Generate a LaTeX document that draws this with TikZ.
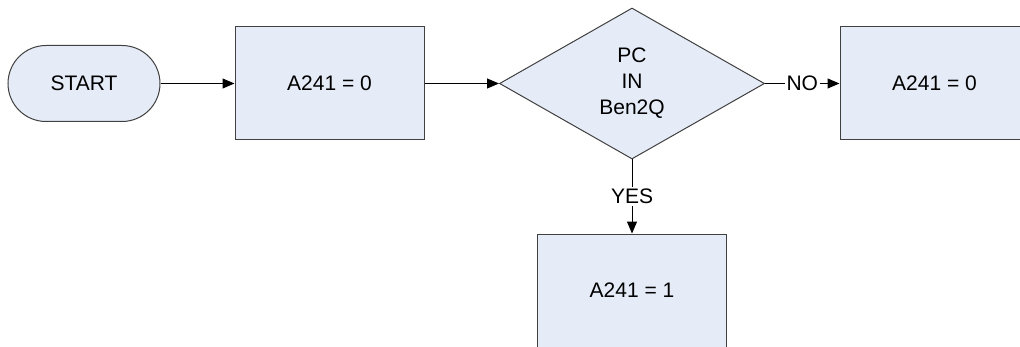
\documentclass[tikz,border=0pt]{standalone}
\usepackage{fontspec}
\setmainfont{Liberation Sans}
\usetikzlibrary{shapes.geometric,shapes.misc,arrows.meta}
\definecolor{boxfill}{HTML}{E6ECF7}
\definecolor{boxline}{HTML}{404040}
\begin{document}
\begin{tikzpicture}[x=0.5pt,y=-0.5pt,
  every node/.style={font=\fontsize{10.5}{13}\selectfont},
  procbox/.style={draw=boxline,fill=boxfill,line width=0.5pt,minimum width=94.5pt,minimum height=56.5pt,inner sep=0pt},
  termbox/.style={draw=boxline,fill=boxfill,line width=0.5pt,rounded rectangle,minimum width=76pt,minimum height=38pt,inner sep=0pt},
  decbox/.style={draw=boxline,fill=boxfill,line width=0.5pt,diamond,minimum width=132.5pt,minimum height=75.5pt,inner sep=0pt,align=center},
  conn/.style={line width=0.5pt,-{Triangle[length=6pt,width=5pt]}},
  lbl/.style={fill=white,inner sep=1pt}]
\useasboundingbox (0,0) rectangle (1020,347);
\clip (0,0) rectangle (1020,347);
\node[termbox] (start) at (84,83.5) {START};
\node[procbox] (a0) at (329.5,83.5) {A241 = 0};
\node[decbox] (dec) at (632,83.5) {PC\\IN\\Ben2Q};
\node[procbox] (no) at (934.5,83.5) {A241 = 0};
\node[procbox] (yes) at (632,290.5) {A241 = 1};
\draw[conn] (start.east) -- (a0.west);
\draw[conn] (a0.east) -- (dec.west);
\draw[conn] (dec.east) -- node[lbl,pos=0.5]{NO} (no.west);
\draw[conn] (dec.south) -- node[lbl,pos=0.5]{YES} (yes.north);
\end{tikzpicture}
\end{document}
